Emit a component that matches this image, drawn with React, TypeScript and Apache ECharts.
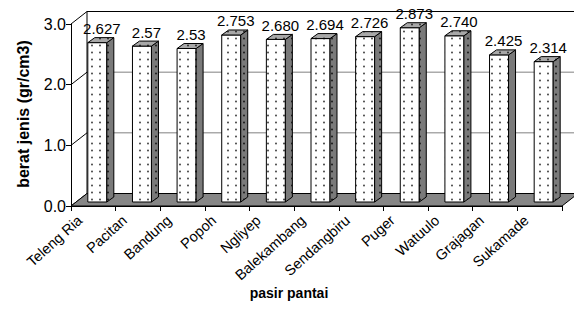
import React, { useEffect, useRef } from "react";
import * as echarts from "echarts";

const categories = [
  "Teleng Ria",
  "Pacitan",
  "Bandung",
  "Popoh",
  "Ngliyep",
  "Balekambang",
  "Sendangbiru",
  "Puger",
  "Watuulo",
  "Grajagan",
  "Sukamade",
];
const values = [2.627, 2.57, 2.53, 2.753, 2.68, 2.694, 2.726, 2.873, 2.74, 2.425, 2.314];
const valueLabels = ["2.627", "2.57", "2.53", "2.753", "2.680", "2.694", "2.726", "2.873", "2.740", "2.425", "2.314"];
const yTicks = [0, 1, 2, 3];

const FONT = "'Liberation Sans', Arial, sans-serif";

function makePattern(bg: string, dot: string) {
  const c = document.createElement("canvas");
  c.width = 8;
  c.height = 7;
  const ctx = c.getContext("2d")!;
  ctx.fillStyle = bg;
  ctx.fillRect(0, 0, 8, 7);
  ctx.fillStyle = dot;
  ctx.beginPath();
  ctx.arc(4, 3.5, 0.9, 0, Math.PI * 2);
  ctx.fill();
  return { image: c, repeat: "repeat", imageWidth: 8, imageHeight: 7 } as any;
}

export default function App() {
  const ref = useRef<HTMLDivElement>(null);
  useEffect(() => {
    document.body.style.margin = "0";
    const chart = echarts.init(ref.current!, undefined, { renderer: "svg" });
    const frontPat = makePattern("#ffffff", "#333333");
    const sidePat = makePattern("#7a7a7a", "#111111");
    const topPat = makePattern("#a8a8a8", "#222222");

    const DX = 16;
    const DY = -12.5;
    const BOX = 4;
    const BOY = -4;
    const BW = 19;
    const BDX = 7;
    const BDY = -5;

    const option: any = {
      animation: false,
      backgroundColor: "#ffffff",
      grid: { left: 71, top: 24, width: 491, height: 182 },
      xAxis: {
        type: "category",
        data: categories,
        axisLine: { lineStyle: { color: "#000", width: 1 } },
        axisTick: { show: true, length: 5, lineStyle: { color: "#000" } },
        axisLabel: {
          rotate: 42,
          interval: 0,
          fontSize: 14.5,
          fontFamily: FONT,
          color: "#000",
          margin: 0,
          padding: [0, 18, 0, 0],
        },
        splitLine: { show: false },
      },
      yAxis: {
        type: "value",
        min: 0,
        max: 3,
        interval: 1,
        axisLine: { show: true, lineStyle: { color: "#000", width: 1 } },
        axisTick: { show: true, length: 5, lineStyle: { color: "#000" } },
        axisLabel: {
          fontSize: 16,
          fontFamily: FONT,
          color: "#000",
          margin: 5,
          formatter: (v: number) => v.toFixed(1),
        },
        splitLine: { show: false },
      },
      graphic: [
        {
          type: "text",
          x: 23,
          y: 114,
          rotation: Math.PI / 2,
          style: {
            text: "berat jenis (gr/cm3)",
            fontSize: 16,
            fontWeight: "bold",
            fontFamily: FONT,
            fill: "#000",
            align: "center",
            verticalAlign: "middle",
          },
        },
        {
          type: "text",
          x: 289,
          y: 293,
          style: {
            text: "pasir pantai",
            fontSize: 14,
            fontWeight: "bold",
            fontFamily: FONT,
            fill: "#000",
            align: "center",
            verticalAlign: "middle",
          },
        },
      ],
      series: [
        {
          type: "custom",
          z: 1,
          silent: true,
          data: [[0, 0]],
          renderItem: (params: any, api: any) => {
            const cs = params.coordSys;
            const x = cs.x;
            const w = cs.width;
            const bottom = cs.y + cs.height;
            const top = cs.y;
            const children: any[] = [];
            yTicks.forEach((t) => {
              const yy = api.coord([0, t])[1];
              if (t > 0 && t < 3) {
                children.push({
                  type: "line",
                  shape: { x1: x + DX, y1: yy + DY, x2: x + w + DX + 20, y2: yy + DY },
                  style: { stroke: "#808080", lineWidth: 1 },
                });
              }
              children.push({
                type: "line",
                shape: { x1: x, y1: yy, x2: x + DX, y2: yy + DY },
                style: { stroke: "#000", lineWidth: 1 },
              });
            });
            children.push({
              type: "line",
              shape: { x1: x + DX, y1: top + DY, x2: x + w + DX + 20, y2: top + DY },
              style: { stroke: "#000", lineWidth: 1 },
            });
            children.push({
              type: "line",
              shape: { x1: x + DX, y1: top + DY, x2: x + DX, y2: bottom + DY },
              style: { stroke: "#000", lineWidth: 1 },
            });
            children.push({
              type: "polygon",
              shape: {
                points: [
                  [x, bottom],
                  [x + w, bottom],
                  [x + w + DX, bottom + DY],
                  [x + DX, bottom + DY],
                ],
              },
              style: { fill: "#868686", stroke: "#000", lineWidth: 1 },
            });
            return { type: "group", children };
          },
        },
        {
          type: "custom",
          z: 2,
          data: values.map((v, i) => [i, v]),
          renderItem: (params: any, api: any) => {
            const i = api.value(0);
            const v = api.value(1);
            const base = api.coord([i, 0]);
            const tp = api.coord([i, v]);
            const bx = base[0] + BOX - BW / 2;
            const by0 = base[1] + BOY;
            const ty = tp[1] + BOY;
            return {
              type: "group",
              children: [
                {
                  type: "rect",
                  shape: { x: bx, y: ty, width: BW, height: by0 - ty },
                  style: { fill: frontPat, stroke: "#000", lineWidth: 1 },
                },
                {
                  type: "polygon",
                  shape: {
                    points: [
                      [bx + BW, ty],
                      [bx + BW + BDX, ty + BDY],
                      [bx + BW + BDX, by0 + BDY],
                      [bx + BW, by0],
                    ],
                  },
                  style: { fill: sidePat, stroke: "#000", lineWidth: 1 },
                },
                {
                  type: "polygon",
                  shape: {
                    points: [
                      [bx, ty],
                      [bx + BDX, ty + BDY],
                      [bx + BW + BDX, ty + BDY],
                      [bx + BW, ty],
                    ],
                  },
                  style: { fill: topPat, stroke: "#000", lineWidth: 1 },
                },
                {
                  type: "text",
                  x: base[0] + 8.5,
                  y: ty - 14,
                  style: {
                    text: valueLabels[i],
                    fontSize: 15,
                    fontFamily: FONT,
                    fill: "#000",
                    align: "center",
                    verticalAlign: "middle",
                  },
                },
              ],
            };
          },
        },
      ],
    };
    chart.setOption(option);
    return () => chart.dispose();
  }, []);
  return (
    <div
      ref={ref}
      style={{ position: "fixed", left: 0, top: 0, width: 574, height: 325, background: "#fff" }}
    />
  );
}
